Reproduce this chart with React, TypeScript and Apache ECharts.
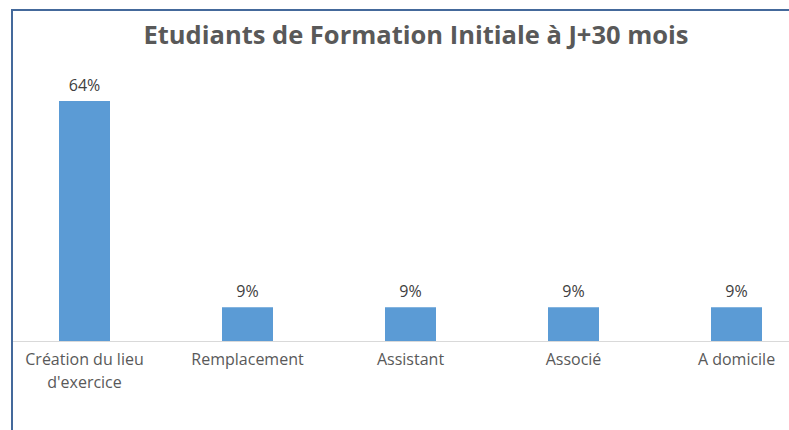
import React, { useEffect, useRef } from "react";
import * as echarts from "echarts";

const titleText = "Etudiants de Formation Initiale à J+30 mois";
const categories = ["Création du lieu\nd'exercice", "Remplacement", "Assistant", "Associé", "A domicile"];
const values = [64, 9, 9, 9, 9];

export default function App() {
  const ref = useRef<HTMLDivElement>(null);
  useEffect(() => {
    document.body.style.margin = "0";
    const chart = echarts.init(ref.current!, null, { renderer: "svg" });
    chart.setOption({
      animation: false,
      backgroundColor: "#ffffff",
      textStyle: { fontFamily: "Open Sans" },
      title: {
        text: titleText,
        left: 411,
        top: 16,
        textAlign: "center",
        textStyle: { fontFamily: "Open Sans", fontWeight: "bold", fontSize: 25.5, color: "#595959" },
      },
      grid: { left: 3, width: 815, top: 78.5, bottom: 89, containLabel: false, outerBoundsMode: "none" },
      xAxis: {
        type: "category",
        data: categories,
        axisLine: { show: true, lineStyle: { color: "#d9d9d9", width: 1 } },
        axisTick: { show: false },
        axisLabel: { interval: 0, color: "#595959", fontSize: 16, lineHeight: 23, margin: 6, fontFamily: "Open Sans" },
      },
      yAxis: {
        type: "value",
        min: 0,
        max: 70,
        show: false,
        splitLine: { show: false },
      },
      series: [
        {
          type: "bar",
          data: values,
          barWidth: 51,
          itemStyle: { color: "#5b9bd5" },
          label: {
            show: true,
            position: "top",
            distance: 8,
            formatter: "{c}%",
            color: "#404040",
            fontSize: 16,
            fontFamily: "Open Sans",
          },
        },
      ],
      graphic: [
        { type: "rect", shape: { x: 0, y: 0, width: 11, height: 430 }, style: { fill: "#ffffff" }, z: 100 },
        { type: "rect", shape: { x: 0, y: 0, width: 789, height: 9 }, style: { fill: "#ffffff" }, z: 100 },
        { type: "line", shape: { x1: 12, y1: 10, x2: 12, y2: 430 }, style: { stroke: "#44699b", lineWidth: 2 }, z: 101 },
        { type: "line", shape: { x1: 11, y1: 10, x2: 789, y2: 10 }, style: { stroke: "#44699b", lineWidth: 2 }, z: 101 },
      ],
    });
    return () => chart.dispose();
  }, []);
  return <div ref={ref} style={{ width: 789, height: 430 }} />;
}
